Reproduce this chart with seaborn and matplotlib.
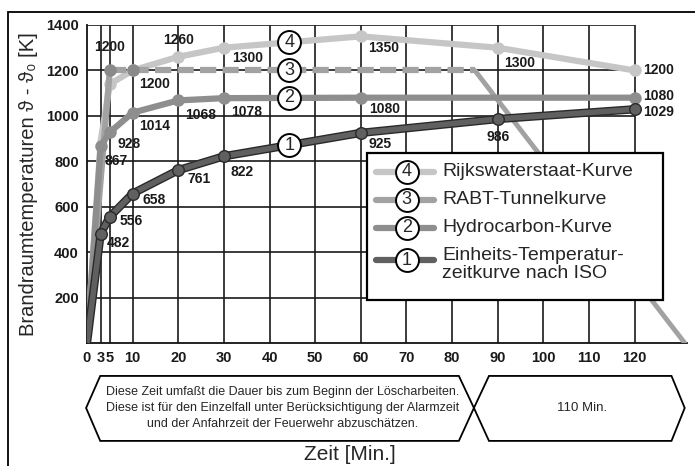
import matplotlib as mpl
mpl.use('Agg')
import matplotlib.pyplot as plt
import matplotlib.patheffects as pe
from matplotlib.patches import Polygon, Rectangle
import numpy as np
import pandas as pd
import seaborn as sns

# Zeit [Min.] und Temperaturen [K]
iso_t = [0, 3, 5, 10, 20, 30, 60, 90, 120]
iso_T = [0, 482, 556, 658, 761, 822, 925, 986, 1029]
hc_t = [0, 3, 5, 10, 20, 30, 60, 120]
hc_T = [0, 867, 928, 1014, 1068, 1078, 1080, 1080]
rabt_t = [0, 5, 10, 85, 131]
rabt_T = [0, 1200, 1200, 1200, 0]
rws_t = [0, 3, 5, 10, 20, 30, 60, 90, 120]
rws_T = [0, 890, 1140, 1200, 1260, 1300, 1350, 1300, 1200]

names = ['Rijkswaterstaat-Kurve', 'RABT-Tunnelkurve', 'Hydrocarbon-Kurve',
         'Einheits-Temperatur-\nzeitkurve nach ISO']
numbers = ['4', '3', '2', '1']

x_ticks = [0, 3, 5, 10, 20, 30, 40, 50, 60, 70, 80, 90, 100, 110, 120]
y_ticks = [200, 400, 600, 800, 1000, 1200, 1400]

# value labels: (time, dx px, dy px, ha)
iso_lab = [(3, 6, -9, 'left'), (5, 10, -4, 'left'), (10, 10, -6, 'left'),
           (20, 9, -9, 'left'), (30, 7, -16, 'left'), (60, 8, -11, 'left'),
           (90, 0, -18, 'center'), (120, 9, -3, 'left')]
hc_lab = [(3, 4, -15, 'left'), (5, 8, -12, 'left'), (10, 6, -13, 'left'),
          (20, 7, -15, 'left'), (30, 7, -14, 'left'), (60, 8, -11, 'left'),
          (120, 9, 2, 'left')]
rabt_lab = [(5, 0, 23, 'center')]
rws_lab = [(10, 6, -14, 'left'), (20, 0, 17, 'center'), (30, 8, -10, 'left'),
           (60, 7, -12, 'left'), (90, 6, -15, 'left'), (120, 9, 0, 'left')]

c_rws = '#c6c6c6'
c_rabt = '#a2a2a2'
c_hc = '#8e8e8e'
c_iso = '#606060'

sns.set_theme(style='white')
plt.rcParams['font.family'] = ['Liberation Sans', 'DejaVu Sans']

fig = plt.figure(figsize=(6.95, 4.66), dpi=100)
ax = fig.add_axes([87/695, 123/466, 600/695, 318/466])

# grid, only up to 120 min / 1400 K
ax.vlines(x_ticks[1:], 0, 1400, color='#1a1a1a', lw=1.2, zorder=1)
ax.hlines(y_ticks, 0, 120, color='#1a1a1a', lw=1.2, zorder=1)

outline = [pe.Stroke(linewidth=6, foreground='#2a2a2a'), pe.Normal()]

sns.lineplot(x=rws_t, y=rws_T, ax=ax, color=c_rws, lw=4.5, marker='o',
             markersize=9, markeredgewidth=0, markevery=list(range(2, len(rws_t))),
             sort=False, estimator=None, zorder=3)
sns.lineplot(x=rabt_t[:2], y=rabt_T[:2], ax=ax, color=c_rabt, lw=4.5,
             sort=False, estimator=None, zorder=3)
sns.lineplot(x=rabt_t[1:4], y=rabt_T[1:4], ax=ax, color=c_rabt, lw=4.5,
             sort=False, estimator=None, zorder=3)
ax.lines[-1].set_dashes((2.6, 1.0))
sns.lineplot(x=rabt_t[3:], y=rabt_T[3:], ax=ax, color=c_rabt, lw=3.5,
             sort=False, estimator=None, zorder=3)
ax.plot(rabt_t[1:3], rabt_T[1:3], 'o', color='#8a8a8a', ms=9, mew=0, zorder=4)
sns.lineplot(x=hc_t, y=hc_T, ax=ax, color=c_hc, lw=4.5, marker='o',
             markersize=9, markeredgewidth=0, markevery=list(range(1, len(hc_t))),
             sort=False, estimator=None, zorder=3)
sns.lineplot(x=iso_t, y=iso_T, ax=ax, color=c_iso, lw=4, sort=False,
             estimator=None, zorder=3, path_effects=outline)
sns.scatterplot(x=iso_t[1:], y=iso_T[1:], ax=ax, color=c_iso, s=70,
                edgecolor='#2a2a2a', linewidth=1, zorder=4)

for ts, Ts, labs in [(iso_t, iso_T, iso_lab), (hc_t, hc_T, hc_lab),
                     (rabt_t, rabt_T, rabt_lab), (rws_t, rws_T, rws_lab)]:
    for t, dx, dy, ha in labs:
        v = Ts[ts.index(t)]
        ax.annotate(str(v), (t, v), xytext=(dx, dy), textcoords='offset pixels',
                    ha=ha, va='center', fontsize=10, fontweight='bold',
                    color='#1a1a1a', zorder=6)

# circled curve numbers
for ts, Ts, n in [(rws_t, rws_T, '4'), (rabt_t, rabt_T, '3'),
                  (hc_t, hc_T, '2'), (iso_t, iso_T, '1')]:
    yv = np.interp(44.3, ts, Ts)
    ax.plot([44.3], [yv], 'o', ms=16.5, mfc='white', mec='black', mew=1.4, zorder=7)
    ax.text(44.3, yv, n, ha='center', va='center', fontsize=13, zorder=8)

# legend box
ax.add_patch(Rectangle((0.467, 0.135), 0.493, 0.462, transform=ax.transAxes,
                       fc='white', ec='black', lw=1.6, zorder=9))
leg_y = [0.538, 0.450, 0.362, 0.261]
for yy, col, n, name in zip(leg_y, [c_rws, c_rabt, c_hc, c_iso], numbers, names):
    ax.plot([0.481, 0.579], [yy, yy], transform=ax.transAxes, color=col, lw=4.5,
            solid_capstyle='round', zorder=10)
    ax.plot([0.533], [yy], 'o', transform=ax.transAxes, ms=16.5, mfc='white',
            mec='black', mew=1.4, zorder=11)
    ax.text(0.533, yy, n, transform=ax.transAxes, ha='center', va='center',
            fontsize=13, zorder=12)
    two = '\n' in name
    ax.text(0.592, yy + (0.04 if two else 0), name, transform=ax.transAxes,
            ha='left', va='top' if two else 'center',
            fontsize=14, linespacing=1.05, zorder=12)

# bottom time boxes
left_box = [(2.9, -145), (81.5, -145), (84.8, -286), (81.5, -431), (2.9, -431), (-0.2, -286)]
right_box = [(88.1, -145), (128.1, -145), (131.0, -286), (128.1, -431), (88.1, -431), (84.8, -286)]
for pts in (left_box, right_box):
    ax.add_patch(Polygon(pts, closed=True, fc='white', ec='black', lw=1.3, clip_on=False))
ax.text(42.9, -286, 'Diese Zeit umfaßt die Dauer bis zum Beginn der Löscharbeiten.\n'
        'Diese ist für den Einzelfall unter Berücksichtigung der Alarmzeit\n'
        'und der Anfahrzeit der Feuerwehr abzuschätzen.',
        ha='center', va='center', fontsize=9, linespacing=1.4, clip_on=False)
ax.text(108.4, -286, '110 Min.', ha='center', va='center', fontsize=9.5, clip_on=False)

ax.set_xlim(0, 131.5)
ax.set_ylim(0, 1400)
ax.set_xticks(x_ticks)
ax.set_yticks(y_ticks)
ax.tick_params(length=0, labelsize=10.5, pad=6, colors='#1a1a1a')
for lab in ax.get_xticklabels() + ax.get_yticklabels():
    lab.set_fontweight('bold')
ax.set_xlabel('')
ax.set_ylabel('Brandraumtemperaturen ϑ - ϑ₀ [K]', fontsize=14.5)
ax.yaxis.set_label_coords(-0.082, 0.5)
for s in ['top', 'right']:
    ax.spines[s].set_visible(False)
for s in ['left', 'bottom']:
    ax.spines[s].set_color('#111111')
    ax.spines[s].set_linewidth(1.3)

fig.text(350/695, 12/466, 'Zeit [Min.]', ha='center', va='center', fontsize=15)
fig.add_artist(Rectangle((8/695, -0.05), 1.0, (466 - 12)/466 + 0.05,
                         transform=fig.transFigure, fill=False, ec='black', lw=1.3))

plt.savefig('out.png', dpi=100)
